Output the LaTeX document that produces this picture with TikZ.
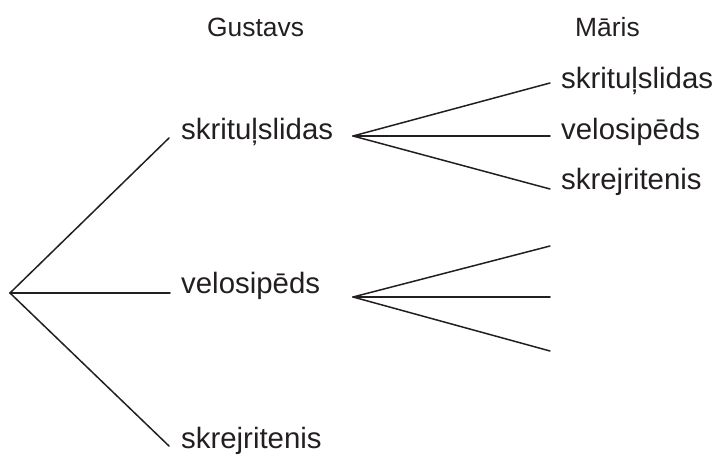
\documentclass[tikz,border=0pt]{standalone}
\usepackage{fontspec}
\setmainfont{Liberation Sans}
\definecolor{ink}{HTML}{231F20}
\begin{document}
\begin{tikzpicture}[x=1bp,y=-1bp,
  branch/.style={draw=ink,line width=1.5bp,line cap=round},
  choice/.style={anchor=base west,inner sep=0pt,text=ink,font=\fontsize{29.5}{31}\selectfont},
  person/.style={anchor=base west,inner sep=0pt,text=ink,font=\fontsize{26.5}{28}\selectfont}]
  \useasboundingbox (0,0) rectangle (717,455);

  % column headers
  \node[person] (gus) at (207,37) {Gustavs};
  \node[person] (mar) at (575,37) {Māris};

  % first level: Gustavs' choice
  \coordinate (root) at (10,293);
  \node[choice] (g1) at (181,140) {skrituļslidas};
  \node[choice] (g2) at (181,294) {velosipēds};
  \node[choice] (g3) at (181,448) {skrejritenis};
  \coordinate (g1end) at (169,138);
  \coordinate (g2end) at (170,293);
  \coordinate (g3end) at (169,446);
  \draw[branch] (root) -- (g1end);
  \draw[branch] (root) -- (g2end);
  \draw[branch] (root) -- (g3end);

  % second level after skrituļslidas: Māris' choice
  \coordinate (s1) at (353,136);
  \node[choice] (m1) at (561,89) {skrituļslidas};
  \node[choice] (m2) at (561,140) {velosipēds};
  \node[choice] (m3) at (561,190) {skrejritenis};
  \coordinate (m1end) at (550,83);
  \coordinate (m2end) at (550,136);
  \coordinate (m3end) at (550,189);
  \draw[branch] (s1) -- (m1end);
  \draw[branch] (s1) -- (m2end);
  \draw[branch] (s1) -- (m3end);

  % second level after velosipēds
  \coordinate (s2) at (353,297);
  \coordinate (n1end) at (550,246);
  \coordinate (n2end) at (550,297);
  \coordinate (n3end) at (550,351);
  \draw[branch] (s2) -- (n1end);
  \draw[branch] (s2) -- (n2end);
  \draw[branch] (s2) -- (n3end);
\end{tikzpicture}
\end{document}
